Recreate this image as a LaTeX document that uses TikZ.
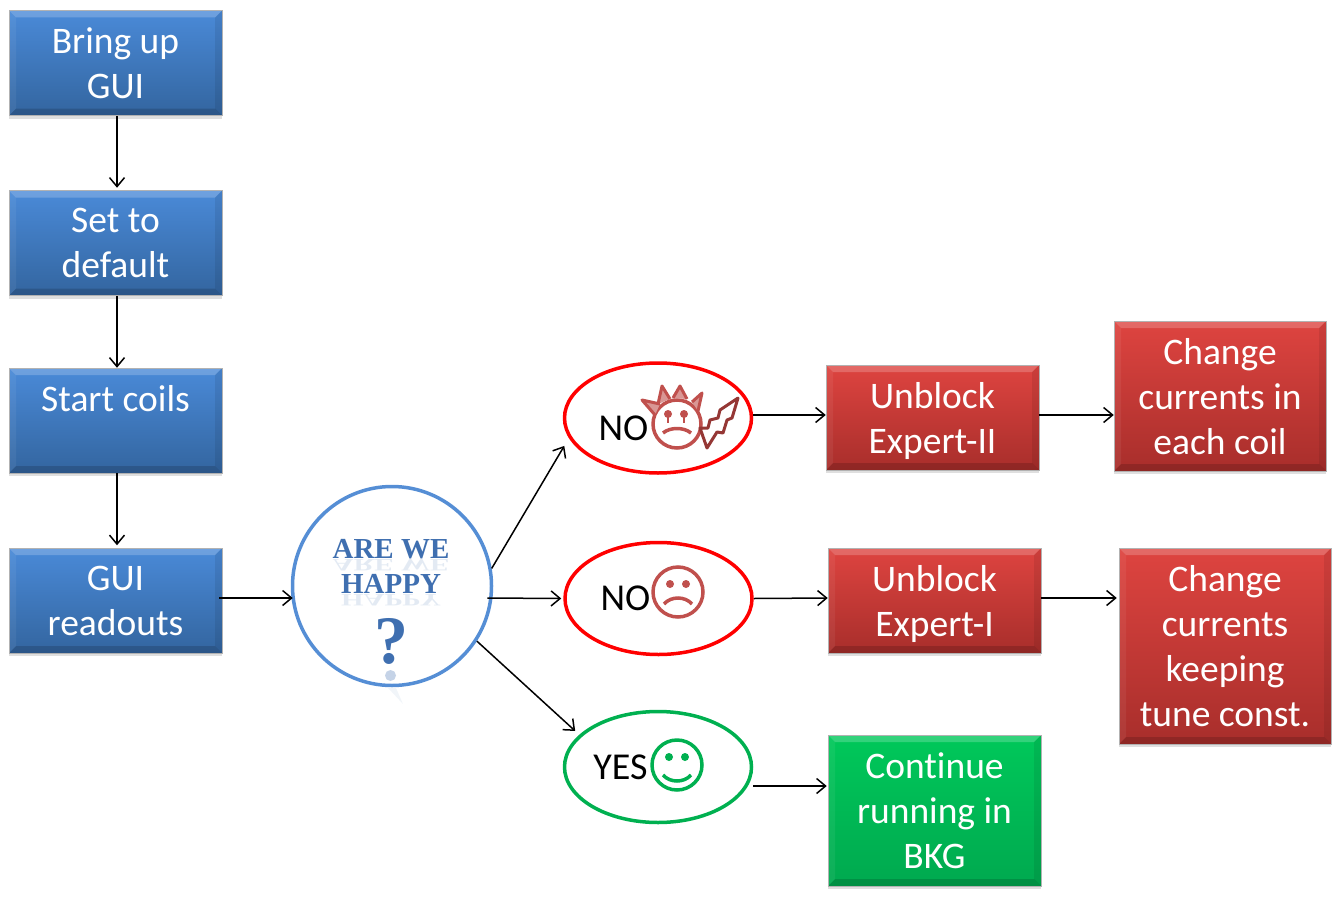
\documentclass[tikz,border=0pt]{standalone}
\usepackage{fontspec}
\setmainfont{Carlito}[Ligatures=NoCommon]
\newfontfamily\happyfont{Liberation Serif}
\usetikzlibrary{shapes.geometric,shadows,arrows.meta}

\begin{document}
\begin{tikzpicture}[x=1pt,y=-1pt]
\tikzstyle{flowbox}=[
	rectangle,
	draw=black!30,
	line width=0.5pt,
	minimum width=213pt,
	minimum height=105pt,
	inner sep=0pt,
	align=center,
	text=white,
	text depth=-2.5pt,
	font=\fontsize{37.5}{45}\selectfont,
	drop shadow={shadow xshift=0pt,shadow yshift=-3pt,opacity=0.25},
	path picture={
		\fill[white,opacity=0.2] (path picture bounding box.north west) -- (path picture bounding box.north east)
			-- ([xshift=-7pt,yshift=-7pt]path picture bounding box.north east) -- ([xshift=7pt,yshift=-7pt]path picture bounding box.north west) -- cycle;
		\fill[black,opacity=0.15] (path picture bounding box.south west) -- (path picture bounding box.south east)
			-- ([xshift=-7pt,yshift=7pt]path picture bounding box.south east) -- ([xshift=7pt,yshift=7pt]path picture bounding box.south west) -- cycle;
		\fill[white,opacity=0.06] (path picture bounding box.north west) -- (path picture bounding box.south west)
			-- ([xshift=7pt,yshift=7pt]path picture bounding box.south west) -- ([xshift=7pt,yshift=-7pt]path picture bounding box.north west) -- cycle;
		\fill[black,opacity=0.08] (path picture bounding box.north east) -- (path picture bounding box.south east)
			-- ([xshift=-7pt,yshift=7pt]path picture bounding box.south east) -- ([xshift=-7pt,yshift=-7pt]path picture bounding box.north east) -- cycle;
	}]
\definecolor{bluetop}{HTML}{4A8AD8}
\definecolor{bluebottom}{HTML}{33659F}
\definecolor{redtop}{HTML}{DE4440}
\definecolor{redbottom}{HTML}{A82E2B}
\definecolor{greentop}{HTML}{00C85A}
\definecolor{greenbottom}{HTML}{00A94F}
\tikzstyle{bluebox}=[flowbox,top color=bluetop,bottom color=bluebottom]
\tikzstyle{redbox}=[flowbox,top color=redtop,bottom color=redbottom]
\tikzstyle{greenbox}=[flowbox,top color=greentop,bottom color=greenbottom]
\tikzstyle{mood}=[ellipse,minimum width=187pt,inner sep=0pt,line width=3.5pt,fill=white]
\tikzstyle{flow}=[-{Straight Barb[length=9pt,width=15pt]},line width=1.5pt]
\tikzstyle{moodtext}=[inner sep=0pt,anchor=base,font=\fontsize{38}{45}\selectfont]
\definecolor{happyblue}{HTML}{3F6FB0}
\definecolor{ringblue}{HTML}{558ED5}
\definecolor{sadred}{HTML}{C0504D}
\definecolor{boltred}{HTML}{953735}
\definecolor{moodgreen}{HTML}{00B050}
\tikzstyle{happytext}=[inner sep=0pt,anchor=base,text=happyblue,font=\happyfont\bfseries\fontsize{29}{30}\selectfont]
\tikzstyle{happyglow}=[inner sep=0pt,anchor=north,text=happyblue,text opacity=0.14,font=\happyfont\bfseries\fontsize{29}{30}\selectfont]
\useasboundingbox (0,0) rectangle (1343,899);

% left column
\node[bluebox] (bringup) at (115.5,63) {Bring up\\GUI};
\node[bluebox] (setdefault) at (115.5,243) {Set to\\default};
\node[bluebox] (startcoils) at (115.5,420.5) {Start coils\\\mbox{}};
\node[bluebox] (readouts) at (115.5,600.5) {GUI\\readouts};

% the question
\node[circle,draw=ringblue,line width=3.5pt,fill=white,minimum size=199pt,inner sep=0pt] (happy) at (392,586) {};
\node[happytext] (arewe) at (391,558) {ARE WE};
\node[happyglow] (arewedown) at (391,559) {\scalebox{1}[-0.6]{ARE WE}};
\node[happytext] (happyword) at (391,593) {HAPPY};
\node[happyglow] (happydown) at (391,594) {\scalebox{1}[-0.6]{HAPPY}};
\node[inner sep=0pt,anchor=base,text=happyblue,font=\happyfont\bfseries\fontsize{68}{70}\selectfont] (quest) at (391,663) {?};
\fill[happyblue,opacity=0.3] (390.5,675.5) circle (5.5pt);
\fill[happyblue,opacity=0.07] (388,688) -- (396,688) -- (403,704) -- cycle;

% moods
\node[mood,draw=red,minimum height=110pt] (nosevere) at (658,418) {};
\node[mood,draw=red,minimum height=112pt] (nomild) at (658.5,598.5) {};
\node[mood,draw=moodgreen,minimum height=111pt] (yes) at (658,767) {};
\node[moodtext] (nosevereword) at (623.5,440) {NO};
\node[moodtext] (nomildword) at (625.5,610) {NO};
\node[moodtext] (yesword) at (620.5,779) {YES};

% angry face
\draw[sadred,line width=3.5pt] (677,424) circle (24pt);
\draw[sadred,line width=3pt,line join=round,fill=sadred!60] (658,404) -- (662,386) -- (670,399);
\draw[sadred,line width=3pt,line join=round,fill=sadred!60] (673,398) -- (680,386) -- (687,399);
\draw[sadred,line width=3pt,line join=round,fill=sadred!60] (692,402) -- (702,393) -- (698,411);
\draw[sadred,line width=3pt,line join=round,fill=sadred!60] (655,415) -- (642,400) -- (660,404);
\fill[sadred] (668,414) circle (4pt) (684,414) circle (4pt);
\draw[sadred,line width=2pt] (668,414) -- (668,423) (684,414) -- (684,423);
\draw[sadred,line width=3.5pt] (663,433) .. controls (670,427) and (684,427) .. (691,433);
\draw[boltred,line width=3pt,line join=round] (738,398) -- (720,410) -- (718,418) -- (710,420) -- (708,428) -- (700,428)
	-- (707,448) -- (717,432) -- (723,433) -- (727,420) -- (732,418) -- cycle;

% sad face
\draw[sadred,line width=3.5pt] (678,592) circle (25pt);
\fill[sadred] (670,584) circle (4pt) (686,584) circle (4pt);
\draw[sadred,line width=3.5pt] (664,604) .. controls (671,596) and (685,596) .. (692,604);

% smiling face
\draw[moodgreen,line width=3.5pt] (677,765) circle (25pt);
\fill[moodgreen] (669,757) circle (4pt) (685,757) circle (4pt);
\draw[moodgreen,line width=3.5pt] (663,775) .. controls (670,783) and (684,783) .. (691,775);

% right side
\node[redbox] (expert2) at (932.5,417.5) {Unblock\\Expert-II};
\node[redbox,minimum width=212pt,minimum height=150pt] (change2) at (1220,396) {Change\\currents in\\each coil};
\node[redbox] (expert1) at (934.5,600.5) {Unblock\\Expert-I};
\node[redbox,minimum width=212pt,minimum height=196pt] (change1) at (1225,646) {Change\\currents\\keeping\\tune const.};
\node[greenbox,minimum height=151pt] (running) at (934.5,810.5) {Continue\\running in\\BKG};

% arrows
\draw[flow] ([xshift=1.5pt]bringup.south) -- ([xshift=1.5pt,yshift=2.5pt]setdefault.north);
\draw[flow] ([xshift=1.5pt]setdefault.south) -- ([xshift=1.5pt]startcoils.north);
\draw[flow] ([xshift=1.5pt]startcoils.south) -- ([xshift=1.5pt,yshift=2.5pt]readouts.north);
\draw[flow] ([xshift=-3pt]readouts.east |- 0,598) -- ([xshift=2pt]happy.west |- 0,598);
\draw[flow] (happy.10) -- ([xshift=-9pt,yshift=-2pt]nosevere.197);
\draw[flow] ([xshift=-6pt]happy.east |- 0,598) -- ([xshift=-2pt]nomild.west);
\draw[flow] (happy.-33) -- ([xshift=-5pt,yshift=3pt]yes.157);
\draw[flow] (nosevere.east |- 0,415) -- (expert2.west |- 0,415);
\draw[flow] (expert2.east |- 0,415) -- (change2.west |- 0,415);
\draw[flow] (nomild.east) -- (expert1.west |- 0,598);
\draw[flow] (expert1.east |- 0,598) -- ([xshift=-2pt]change1.west |- 0,598);
\draw[flow] (yes.east |- 0,786) -- ([xshift=-1pt]running.west |- 0,786);
\end{tikzpicture}
\end{document}
